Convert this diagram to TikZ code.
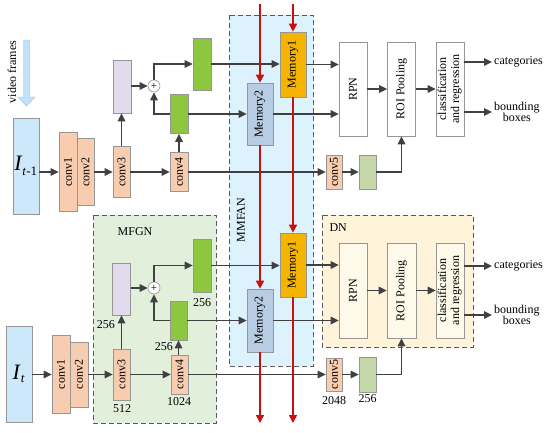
\documentclass[tikz,border=0pt]{standalone}
\usepackage{fontspec}
\setmainfont{Liberation Serif}
\usetikzlibrary{arrows.meta}

\definecolor{edgegray}{RGB}{150,150,150}
\definecolor{linegray}{RGB}{64,64,64}
\definecolor{framegray}{RGB}{90,90,90}
\definecolor{redline}{RGB}{200,16,16}
\definecolor{ifill}{RGB}{204,232,250}
\definecolor{convfill}{RGB}{248,204,174}
\definecolor{purplefill}{RGB}{224,220,238}
\definecolor{greenfill}{RGB}{141,198,63}
\definecolor{olivefill}{RGB}{197,214,168}
\definecolor{memAfill}{RGB}{245,180,0}
\definecolor{memBfill}{RGB}{184,204,228}
\definecolor{mmfanbg}{RGB}{220,242,252}
\definecolor{mfgnbg}{RGB}{226,239,218}
\definecolor{dnbg}{RGB}{255,244,218}
\definecolor{creamfill}{RGB}{254,249,232}
\definecolor{framefill}{RGB}{190,226,248}
\definecolor{frameedge}{RGB}{130,190,230}

\newcommand{\Ilab}[1]{{\fontsize{22}{24}\selectfont\textit{I}}\textsubscript{\fontsize{13}{14}\selectfont #1}}
\newcommand{\vtxt}[1]{\rotatebox{90}{#1}}

\tikzset{
  blk/.style={draw=edgegray, line width=0.6pt, inner sep=0pt},
  sz/.style 2 args={minimum width=#1pt, minimum height=#2pt},
  ibox/.style={blk, fill=ifill},
  conv/.style={blk, fill=convfill},
  fuse/.style={blk, fill=purplefill},
  feat/.style={blk, fill=greenfill},
  pool/.style={blk, fill=olivefill},
  memA/.style={blk, fill=memAfill, sz={26}{65}},
  memB/.style={blk, fill=memBfill, sz={26}{62}},
  det/.style={blk, fill=white, sz={28}{94}},
  plus/.style={circle, draw=edgegray, fill=white, line width=0.6pt, inner sep=0pt, minimum size=12pt, font=\fontsize{11}{11}\selectfont},
  flow/.style={draw=linegray, line width=1.3pt, -{Triangle[length=8pt,width=7.5pt]}},
  redflow/.style={draw=redline, line width=1.5pt, -{Triangle[length=8pt,width=8pt]}},
  frame/.style={draw=framegray, line width=0.9pt, dash pattern=on 5pt off 3pt},
  num/.style={inner sep=1pt},
  outtxt/.style={anchor=west, inner sep=2pt, align=center},
}

\begin{document}
\begin{tikzpicture}[x=1pt, y=-1pt, font=\fontsize{12}{13}\selectfont]
  \useasboundingbox (0,0) rectangle (550,432);

  \draw[frame, fill=mmfanbg] (229,15) rectangle (313,366);
  \draw[frame, fill=mfgnbg] (93,215) rectangle (216,423);
  \draw[frame, fill=dnbg] (322,215) rectangle (473,347);
  \node (lmmfan) at (241,220) {\vtxt{MMFAN}};
  \node (lmfgn) at (135,232) {MFGN};
  \node[anchor=west] (ldn) at (326,228) {DN};

  \draw[draw=frameedge, fill=framefill] (23.5,40) -- (29.5,40) -- (29.5,97) -- (35,97) -- (26.5,106) -- (18,97) -- (23.5,97) -- cycle;
  \node (vf) at (12,72) {\vtxt{video frames}};

  \node[ibox, sz={26}{96}] (ita) at (26,166) {\Ilab{\textit{t}-1}};
  \node[conv, sz={18}{79}] (c1a) at (68,172) {\vtxt{conv1}};
  \node[conv, sz={17}{67}] (c2a) at (85.5,172) {\vtxt{conv2}};
  \node[conv, sz={17}{51}] (c3a) at (121.5,172) {\vtxt{conv3}};
  \node[fuse, sz={18}{53}] (pa) at (122,86.5) {};
  \node[plus] (plusa) at (154,86) {+};
  \node[feat, sz={18}{52}] (g1a) at (202,64) {};
  \node[feat, sz={18}{39}] (g2a) at (179,114) {};
  \node[conv, sz={18}{39}] (c4a) at (179,172) {\vtxt{conv4}};
  \node[conv, sz={16}{34}] (c5a) at (334,172) {\vtxt{conv5}};
  \node[pool, sz={17}{34}] (oa) at (367.5,172) {};
  \node[memA] (m1a) at (293,64.5) {\vtxt{Memory1}};
  \node[memB] (m2a) at (260,114) {\vtxt{Memory2}};
  \node[det] (rpna) at (353,89) {\vtxt{RPN}};
  \node[det] (roia) at (401.5,89) {\vtxt{ROI Pooling}};
  \node[det] (clsa) at (450,89) {\vtxt{\begin{tabular}{@{}c@{}}classification\\and regression\end{tabular}}};
  \node[outtxt] (cata) at (492,62) {categories};
  \node[outtxt] (bba) at (492,112) {bounding\\[-2pt]boxes};

  \node[ibox, sz={26}{96}] (itb) at (19,374) {\Ilab{\textit{t}}};
  \node[conv, sz={18}{78}] (c1b) at (61,374.5) {\vtxt{conv1}};
  \node[conv, sz={18}{65}] (c2b) at (79,374.5) {\vtxt{conv2}};
  \node[conv, sz={17}{51}] (c3b) at (121.5,374.5) {\vtxt{conv3}};
  \node[fuse, sz={18}{52}] (pb) at (121.5,289) {};
  \node[plus] (plusb) at (154,288) {+};
  \node[feat, sz={18}{53}] (g1b) at (202,265.5) {};
  \node[feat, sz={17}{39}] (g2b) at (178.5,320.5) {};
  \node[conv, sz={17}{39}] (c4b) at (179.5,374.5) {\vtxt{conv4}};
  \node[conv, sz={16}{33}] (c5b) at (334,374.5) {\vtxt{conv5}};
  \node[pool, sz={17}{35}] (ob) at (367.5,374.5) {};
  \node[memA, sz={26}{64}] (m1b) at (293,265) {\vtxt{Memory1}};
  \node[memB, sz={26}{63}] (m2b) at (260,320.5) {\vtxt{Memory2}};
  \node[det, fill=creamfill, sz={28}{95}] (rpnb) at (353,290.5) {\vtxt{RPN}};
  \node[det, fill=creamfill, sz={29}{95}] (roib) at (401.5,290.5) {\vtxt{ROI Pooling}};
  \node[det, fill=creamfill, sz={28}{95}] (clsb) at (450,290.5) {\vtxt{\begin{tabular}{@{}c@{}}classification\\and regression\end{tabular}}};
  \node[outtxt] (catb) at (492,266) {categories};
  \node[outtxt] (bbb) at (492,315) {bounding\\[-2pt]boxes};

  \node[num, anchor=east] (n1) at (116,325) {256};
  \node[num] (n2) at (122,409) {512};
  \node[num] (n3) at (202,303) {256};
  \node[num, anchor=east] (n4) at (174,347) {256};
  \node[num] (n5) at (179,402) {1024};
  \node[num] (n6) at (334,401) {2048};
  \node[num] (n7) at (367.5,399) {256};

  \draw[flow] (ita.east |- c1a) -- (c1a);
  \draw[flow] (c2a) -- (c3a);
  \draw[flow] (c3a) -- (c4a);
  \draw[flow] (c4a) -- (c5a);
  \draw[flow] (c5a) -- (oa);
  \draw[flow] (oa.east) -| (roia.south);
  \draw[flow] (c3a.north) -- (c3a.north |- pa.south);
  \draw[flow] (pa.east |- plusa) -- (plusa);
  \draw[flow] (plusa.north) |- (g1a.west);
  \draw[flow] (c4a) -- (g2a);
  \draw[flow] (g2a.west) -| (plusa.south);
  \draw[flow] (g1a.east) -- (g1a.east -| m1a.west);
  \draw[flow] (g2a.east) -- (g2a.east -| m2a.west);
  \draw[flow] (m1a.east) -- (m1a.east -| rpna.west);
  \draw[flow] (m2a.east) -- (m2a.east -| rpna.west);
  \draw[flow] (rpna) -- (roia);
  \draw[flow] (roia) -- (clsa);
  \draw[flow] (clsa.east |- cata.west) -- (cata.west);
  \draw[flow] (clsa.east |- bba.west) -- (bba.west);

  \draw[flow] (itb.east |- c1b) -- (c1b);
  \draw[flow] (c2b) -- (c3b);
  \draw[flow] (c3b) -- (c4b);
  \draw[flow] (c4b) -- (c5b);
  \draw[flow] (c5b) -- (ob);
  \draw[flow] (ob.east) -| (roib.south);
  \draw[flow] (c3b.north) -- (c3b.north |- pb.south);
  \draw[flow] (pb.east |- plusb) -- (plusb);
  \draw[flow] (plusb.north) |- (g1b.west);
  \draw[flow] (c4b.north -| g2b) -- (g2b.south);
  \draw[flow] (g2b.west) -| (plusb.south);
  \draw[flow] (g1b.east) -- (g1b.east -| m1b.west);
  \draw[flow] (g2b.east) -- (g2b.east -| m2b.west);
  \draw[flow] (m1b.east) -- (m1b.east -| rpnb.west);
  \draw[flow] (m2b.east) -- (m2b.east -| rpnb.west);
  \draw[flow] (rpnb) -- (roib);
  \draw[flow] (roib) -- (clsb);
  \draw[flow] (clsb.east |- catb.west) -- (catb.west);
  \draw[flow] (clsb.east |- bbb.west) -- (bbb.west);

  \coordinate (r1s) at (260,4);
  \coordinate (r2s) at (293,4);
  \coordinate (r1e) at (260,423);
  \coordinate (r2e) at (293,423);
  \draw[redflow] (r1s) -- (m2a.north);
  \draw[redflow] (m2a.south) -- (m2b.north);
  \draw[redflow] (m2b.south) -- (r1e);
  \draw[redflow] (r2s) -- (m1a.north);
  \draw[redflow] (m1a.south) -- (m1b.north);
  \draw[redflow] (m1b.south) -- (r2e);
\end{tikzpicture}
\end{document}
